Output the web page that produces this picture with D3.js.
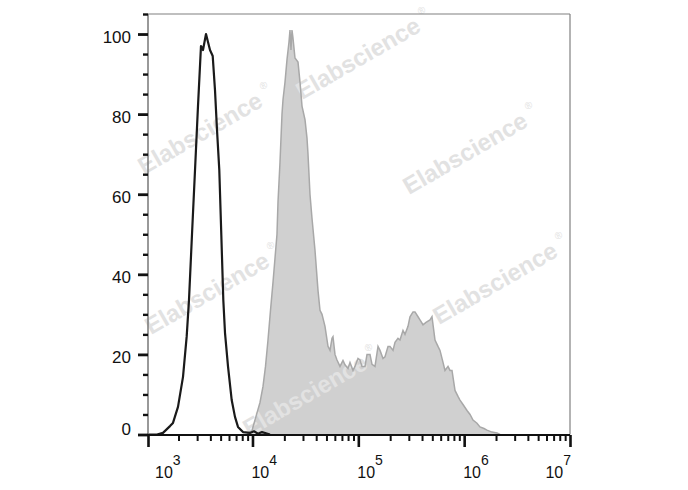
<!DOCTYPE html>
<html>
<head>
<meta charset="utf-8">
<script src="https://cdn.jsdelivr.net/npm/d3@7/dist/d3.min.js"></script>
<style>
  html, body { margin: 0; padding: 0; background: #fff; }
  svg { display: block; }
  text { font-family: "Liberation Sans", Arial, sans-serif; }
</style>
</head>
<body>
<svg id="chart" width="688" height="490"></svg>
<script>
// ---- data ----
// isotype control (black outline): fluorescence intensity, % of max
const controlFL = [1030, 1253, 1427, 1662, 1774, 1978, 2206, 2390, 2513, 2683, 2864, 3056, 3262, 3408, 3638, 3799, 3968, 4209, 4424, 4623, 4859, 5074, 5301, 5500, 5871, 6362, 6834, 7297, 8137, 9474, 10334, 11275, 12298, 13418, 14642];
const controlCount = [0, 0, 0.4, 2.1, 2.9, 6.9, 14.4, 24.5, 33.6, 50, 66, 82, 97, 96, 100, 98, 96, 94.5, 86, 76, 66, 50, 33.6, 25.4, 17, 8.6, 4.4, 1.9, 0.6, 0.4, 0.8, 0.2, 0.6, 0.3, 0];

// stained sample (grey filled)
const sampleFL = [8874, 9895, 11033, 11776, 12572, 13274, 14015, 14800, 15625, 16320, 17040, 17420, 18197, 19006, 19425, 20290, 21190, 22130, 22620, 23110, 23620, 24140, 25210, 26920, 28120, 29370, 31350, 32740, 33460, 34940, 36500, 38960, 41590, 43450, 45380, 48430, 51700, 54010, 56410, 57630, 60200, 62880, 67110, 71640, 74820, 79890, 83430, 89060, 93020, 99290, 103700, 108300, 115600, 120800, 128900, 134700, 143700, 153500, 160300, 171100, 178700, 190800, 199200, 212700, 222100, 237100, 247600, 264300, 276100, 294700, 307800, 328600, 343200, 366400, 382500, 408400, 436000, 475600, 496600, 530200, 566000, 591200, 631000, 659100, 703600, 734800, 767500, 819200, 874500, 913300, 975000, 1064000, 1136000, 1212000, 1322000, 1411000, 1540000, 1643000, 1832000, 2043000, 2181000];
const sampleCount = [0, 1, 5.4, 8, 12, 17, 23.6, 31, 38, 44, 50, 58, 68, 80, 83.6, 88, 93.6, 98, 101, 96, 101, 99, 94, 93, 88, 82, 78.6, 74, 70, 60, 54, 46, 36, 31, 30, 27, 22, 21, 24, 24.4, 20, 18.6, 17, 18.5, 17.4, 16.5, 18, 16, 17, 19, 18.6, 17, 17, 20, 20, 17.5, 17, 22, 21, 19, 19.4, 22, 22, 21, 23, 24, 23.6, 26, 25, 27, 29.4, 30.6, 30.6, 29.4, 28.6, 27.4, 28, 28.6, 29.4, 23.6, 22, 21, 18, 16, 17, 16, 16, 11, 9.5, 8.6, 7.5, 6, 5, 3.6, 2.8, 1.9, 1.5, 1.1, 0.6, 0.4, 0];

const xDomain = [1030, 1e7];
const yDomain = [0, 105];
const yTickLabels = [0, 20, 40, 60, 80, 100];
const yMinorTicks = [5, 10, 15, 25, 30, 35, 45, 50, 55, 65, 70, 75, 85, 90, 95, 105];
const xDecades = [1e3, 1e4, 1e5, 1e6, 1e7];
const xDecadeExp = ["3", "4", "5", "6", "7"];
const watermarkText = "Elabscience";

// ---- layout ----
const svg = d3.select("#chart");
const pLeft = 148, pRight = 570, pTop = 14, pBottom = 434.5;
const x = d3.scaleLog().domain(xDomain).range([pLeft, pRight]);
const y = d3.scaleLinear().domain(yDomain).range([pBottom, pTop]);

const sample = sampleFL.map((v, i) => [v, sampleCount[i]]);
const control = controlFL.map((v, i) => [v, controlCount[i]]);

// grey filled histogram
svg.append("path")
  .datum(sample)
  .attr("d", d3.area().x(d => x(d[0])).y0(y(0)).y1(d => y(d[1])))
  .attr("fill", "#d0d0d0");

// watermarks
const wm = [[358, 58], [200, 133], [465, 153], [207, 293], [305, 395], [495, 283]];
wm.forEach(([cx, cy]) => {
  const g = svg.append("g").attr("transform", `translate(${cx},${cy}) rotate(-30)`);
  g.append("text")
    .attr("text-anchor", "middle")
    .attr("dy", "0.35em")
    .attr("font-size", 24)
    .attr("font-weight", "bold")
    .attr("fill", "#e2e2e2")
    .text(watermarkText);
  g.append("text")
    .attr("x", 75).attr("y", -6)
    .attr("font-size", 10)
    .attr("fill", "#e2e2e2")
    .text("®");
});

svg.append("path")
  .datum(sample)
  .attr("d", d3.line().x(d => x(d[0])).y(d => y(d[1])))
  .attr("fill", "none")
  .attr("stroke", "#a8a8a8")
  .attr("stroke-width", 1.5);

// black control outline
svg.append("path")
  .datum(control)
  .attr("d", d3.line().x(d => x(d[0])).y(d => y(d[1])))
  .attr("fill", "none")
  .attr("stroke", "#1a1a1a")
  .attr("stroke-width", 2.2)
  .attr("stroke-linejoin", "round");

// frame (top & right, thin grey)
svg.append("line").attr("x1", pLeft).attr("x2", pRight).attr("y1", pTop).attr("y2", pTop)
  .attr("stroke", "#808080").attr("stroke-width", 1.2);
svg.append("line").attr("x1", pRight).attr("x2", pRight).attr("y1", pTop).attr("y2", pBottom)
  .attr("stroke", "#808080").attr("stroke-width", 1.2);
// y axis line
svg.append("line").attr("x1", pLeft).attr("x2", pLeft).attr("y1", pTop).attr("y2", pBottom)
  .attr("stroke", "#777").attr("stroke-width", 1.5);

// y axis ticks
const yAxisMajor = d3.axisLeft(y).tickValues(yTickLabels).tickSize(10).tickFormat("");
const gy = svg.append("g").attr("transform", `translate(${pLeft},0)`).call(yAxisMajor);
gy.select(".domain").remove();
gy.selectAll("line").attr("stroke", "#111").attr("stroke-width", 2.8);
const gy2 = svg.append("g").attr("transform", `translate(${pLeft},0)`)
  .call(d3.axisLeft(y).tickValues(yMinorTicks).tickSize(5).tickFormat(""));
gy2.select(".domain").remove();
gy2.selectAll("line").attr("stroke", "#111").attr("stroke-width", 2.4);

svg.append("g").selectAll("text").data(yTickLabels).join("text")
  .attr("x", 131)
  .attr("y", d => Math.min(y(d) + 9, 435))
  .attr("text-anchor", "end")
  .attr("font-size", 17)
  .attr("fill", "#111")
  .text(d => d);

// x axis
const xAxisY = 435;
svg.append("line").attr("x1", pLeft).attr("x2", pRight).attr("y1", xAxisY).attr("y2", xAxisY)
  .attr("stroke", "#111").attr("stroke-width", 2);
const minorX = [];
[1e3, 1e4, 1e5, 1e6].forEach(dec => {
  for (let m = 2; m <= 9; m++) {
    const v = dec * m;
    if (v >= xDomain[0] && v <= xDomain[1]) minorX.push(v);
  }
});
const gxMinor = svg.append("g").attr("transform", `translate(0,${xAxisY})`)
  .call(d3.axisBottom(x).tickValues(minorX).tickSize(6).tickFormat(""));
gxMinor.select(".domain").remove();
gxMinor.selectAll("line").attr("stroke", "#111").attr("stroke-width", 2);
const majorX = xDecades.filter(v => v >= xDomain[0]);
const gxMajor = svg.append("g").attr("transform", `translate(0,${xAxisY})`)
  .call(d3.axisBottom(x).tickValues([xDomain[0], ...majorX]).tickSize(12).tickFormat(""));
gxMajor.select(".domain").remove();
gxMajor.selectAll("line").attr("stroke", "#111").attr("stroke-width", 2.6);

// x tick labels 10^n
xDecades.forEach((v, i) => {
  const t = svg.append("text").attr("y", 478).attr("font-size", 16).attr("fill", "#111");
  t.append("tspan").text("10");
  t.append("tspan").attr("font-size", 14).attr("dy", -13).text(xDecadeExp[i]);
  const w = t.node().getComputedTextLength();
  let px = x(v) - 1;
  px = Math.max(px, 155);
  px = Math.min(px, pRight - w + 1);
  t.attr("x", px);
});
</script>
</body>
</html>
